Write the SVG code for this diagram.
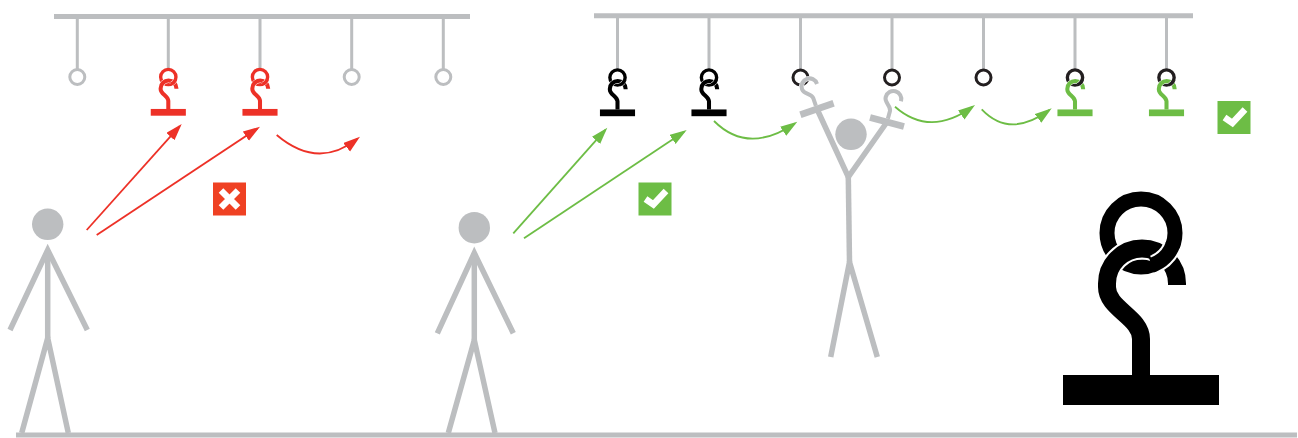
<svg xmlns="http://www.w3.org/2000/svg" width="1298" height="438" viewBox="0 0 1298 438">
  <defs>
    <style>
      .bar{fill:none;stroke:#bcbec0;stroke-width:5}
      .drop{fill:none;stroke:#bcbec0;stroke-width:3}
      .ring{fill:none;stroke-width:3}
      .ring-g{stroke:#bcbec0}
      .ring-k{stroke:#231f20}
      .fig{fill:none;stroke:#bcbec0;stroke-width:5.5;stroke-linejoin:miter;stroke-miterlimit:10}
      .head{fill:#bcbec0}
      .red{color:#ed3127}
      .grn{color:#6dbd45}
      .blk{color:#000}
      .dark{color:#231f20}
      .gry{color:#bcbec0}
      .link-r{fill:none;stroke:#ed3127;stroke-width:1.8}
      .link-g{fill:none;stroke:#6dbd45;stroke-width:1.8}
      .mark{fill:none;stroke:#fff;stroke-width:6.5;stroke-linecap:butt;stroke-linejoin:miter}
    </style>

    <!-- hook parts, drawn at full size with the ring centre at the origin -->
    <circle id="ringBack" r="34" fill="none" stroke="currentColor" stroke-width="15"/>
    <g id="hookBody">
      <path d="M0,142 L0,106 C0,84 -34,76 -34,54 L-34,50.5 A35,35 0 0 1 36,50.5 L36,52" fill="none" stroke="#fff" stroke-width="22"/>
      <path d="M0,142 L0,106 C0,84 -34,76 -34,54 L-34,50.5 A35,35 0 0 1 36,50.5 L36,52" fill="none" stroke="currentColor" stroke-width="18"/>
      <rect x="-78" y="142" width="156" height="30" fill="currentColor"/>
    </g>
    <!-- the part of the ring that passes over the hook; its white edge is kept
         shorter than the coloured arc so no seam shows at the joins -->
    <g id="ringFront">
      <path d="M31.5,12.7 A34,34 0 0 1 12.7,31.5" fill="none" stroke="#fff" stroke-width="19"/>
      <path d="M32.3,10.5 A34,34 0 0 1 10.5,32.3" fill="none" stroke="currentColor" stroke-width="15"/>
    </g>

    <!-- status badges -->
    <g id="okBadge">
      <rect width="33" height="33" fill="#6dbd45"/>
      <polyline class="mark" points="7,16.5 14.9,22 27.5,8.5"/>
    </g>
    <g id="noBadge">
      <rect width="33" height="33" fill="#ef4123"/>
      <path class="mark" d="M8,8 L25,25 M25,8 L8,25"/>
    </g>

    <marker id="tip-r" markerUnits="userSpaceOnUse" viewBox="0 0 18 12" markerWidth="18" markerHeight="12" refX="14" refY="5.5" orient="auto">
      <path d="M0,0 L17,5.5 L0,11 z" fill="#ed3127"/>
    </marker>
    <marker id="tip-g" markerUnits="userSpaceOnUse" viewBox="0 0 18 12" markerWidth="18" markerHeight="12" refX="14" refY="5.5" orient="auto">
      <path d="M0,0 L17,5.5 L0,11 z" fill="#6dbd45"/>
    </marker>
  </defs>

  <rect width="1298" height="438" fill="#fff"/>

  <!-- floor -->
  <line id="floor" class="bar" x1="16" y1="435" x2="1297" y2="435" stroke-width="5.3"/>

  <!-- left rail with its drops -->
  <g id="rail-left">
    <line class="bar" x1="54" y1="16.5" x2="470" y2="16.5"/>
    <path class="drop" d="M77.3,16 V69 M168.3,16 V69 M260,16 V69 M351.7,16 V69 M443.3,16 V69"/>
    <circle class="ring ring-g" cx="77.3" cy="77" r="7.5"/>
    <circle class="ring ring-g" cx="351.7" cy="77" r="7.5"/>
    <circle class="ring ring-g" cx="443.3" cy="77" r="7.5"/>
  </g>

  <!-- right rail with its drops -->
  <g id="rail-right">
    <line class="bar" x1="594" y1="15.8" x2="1193" y2="15.8"/>
    <path class="drop" d="M617.5,16 V69 M709,16 V69 M800.5,16 V69 M892,16 V69 M983.5,16 V69 M1075,16 V69 M1166.5,16 V69"/>
    <circle class="ring ring-k" cx="800.5" cy="77.5" r="7.5"/>
    <circle class="ring ring-k" cx="892" cy="77.5" r="7.5"/>
    <circle class="ring ring-k" cx="983.5" cy="77.5" r="7.5"/>
  </g>

  <!-- hooks hanging on the left rail -->
  <g id="hook-red-1" class="red" transform="translate(168.3,77) scale(0.225)">
    <use href="#ringBack"/><use href="#hookBody"/><use href="#ringFront"/>
  </g>
  <g id="hook-red-2" class="red" transform="translate(260,77) scale(0.225)">
    <use href="#ringBack"/><use href="#hookBody"/><use href="#ringFront"/>
  </g>

  <!-- hooks hanging on the right rail -->
  <g id="hook-black-1" class="blk" transform="translate(617.5,77.5) scale(0.225)">
    <use href="#ringBack"/><use href="#hookBody"/><use href="#ringFront"/>
  </g>
  <g id="hook-black-2" class="blk" transform="translate(709,77.5) scale(0.225)">
    <use href="#ringBack"/><use href="#hookBody"/><use href="#ringFront"/>
  </g>
  <g id="hook-green-1" transform="translate(1075,77.5) scale(0.225)">
    <use class="dark" href="#ringBack"/><use class="grn" href="#hookBody"/><use class="dark" href="#ringFront"/>
  </g>
  <g id="hook-green-2" transform="translate(1166.5,77.5) scale(0.225)">
    <use class="dark" href="#ringBack"/><use class="grn" href="#hookBody"/><use class="dark" href="#ringFront"/>
  </g>

  <!-- standing figure, left -->
  <g id="person-1">
    <circle class="head" cx="47.7" cy="224.3" r="15.7"/>
    <polyline class="fig" points="10,330 47.7,250 87.3,330"/>
    <line class="fig" x1="47.7" y1="250" x2="47.7" y2="338"/>
    <polyline class="fig" points="21.7,433 47.7,338 68.3,433"/>
  </g>

  <!-- standing figure, middle -->
  <g id="person-2">
    <circle class="head" cx="474.3" cy="227.7" r="15.7"/>
    <polyline class="fig" points="437.3,333.3 474.3,253 513.3,333.3"/>
    <line class="fig" x1="474.3" y1="253" x2="474.3" y2="340"/>
    <polyline class="fig" points="448.3,433 474.3,340 495,433"/>
  </g>

  <!-- figure holding two hooks up -->
  <g id="person-3">
    <circle class="head" cx="851" cy="134.3" r="15.7"/>
    <polyline class="fig" points="817,109 848.3,177 887,122"/>
    <line class="fig" x1="848.3" y1="177" x2="849.5" y2="262"/>
    <polyline class="fig" points="830.7,357 849.5,262 877.3,357"/>
    <g class="gry" transform="translate(817,109) rotate(-19) scale(0.225) translate(0,-157)">
      <use href="#hookBody"/>
    </g>
    <g class="gry" transform="translate(887,122) rotate(15) scale(0.225) translate(0,-157)">
      <use href="#hookBody"/>
    </g>
  </g>

  <!-- large hook detail -->
  <g id="hook-detail" class="blk" transform="translate(1141,233)">
    <use href="#ringBack"/><use href="#hookBody"/><use href="#ringFront"/>
  </g>

  <!-- badges -->
  <use id="badge-no" href="#noBadge" x="213" y="182.5"/>
  <use id="badge-ok-1" href="#okBadge" x="638.5" y="182.5"/>
  <use id="badge-ok-2" href="#okBadge" x="1217.5" y="101"/>

  <!-- moves -->
  <g id="connectors">
    <path class="link-r" d="M86.7,230 L179.7,126.2" marker-end="url(#tip-r)"/>
    <path class="link-r" d="M96.7,235 L257.5,128.4" marker-end="url(#tip-r)"/>
    <path class="link-r" d="M276.7,135 Q318,170 357.6,138.6" marker-end="url(#tip-r)"/>
    <path class="link-g" d="M513.3,233.3 L605.3,129.9" marker-end="url(#tip-g)"/>
    <path class="link-g" d="M524,238.3 L684.2,131.7" marker-end="url(#tip-g)"/>
    <path class="link-g" d="M714,121 Q748,155 794.8,123.4" marker-end="url(#tip-g)"/>
    <path class="link-g" d="M895,106.7 Q930,137.5 972.6,106.8" marker-end="url(#tip-g)"/>
    <path class="link-g" d="M981.7,109.3 Q1010,139 1049.3,110.1" marker-end="url(#tip-g)"/>
  </g>
</svg>
